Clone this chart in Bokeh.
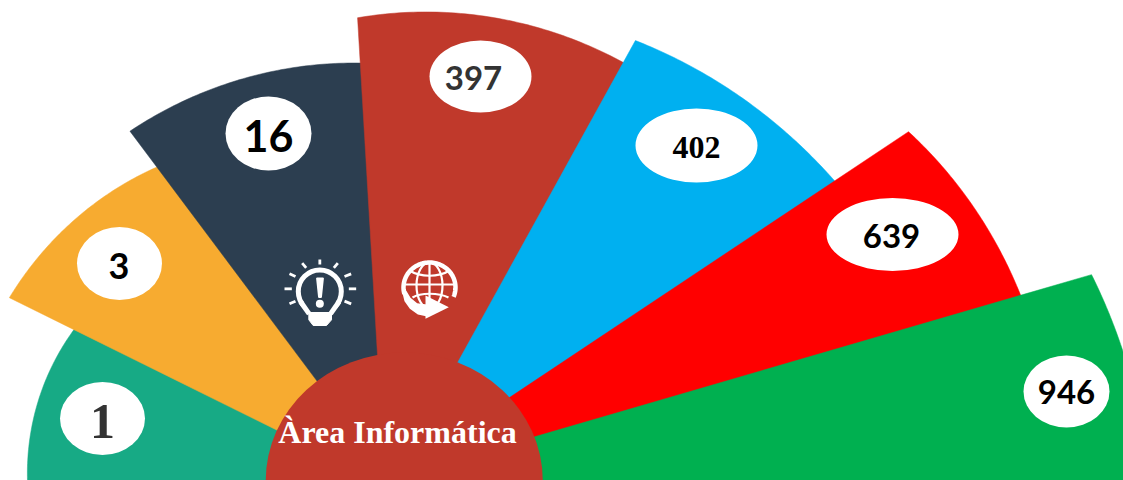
import numpy as np
from bokeh.plotting import figure
from bokeh.embed import file_html
from bokeh.resources import INLINE
from bokeh.core.properties import value

# --- data -----------------------------------------------------------------
categories = ["A", "B", "C", "D", "E", "F", "G"]
values = [1, 3, 16, 397, 402, 639, 946]
title = "Àrea Informática"

# --- geometry / style -----------------------------------------------------
APEX = (387.0, 480.0)
colors = ["#17AA85", "#F7AB30", "#2C3E50", "#C0392B", "#00B0F0", "#FF0000", "#00B050"]
# start angle, end angle (deg, ccw from +x), outer radius at start / middle / end,
# and the x where each straight edge meets the bottom of the page.
# Each slice runs a little under the next one, so that no seam shows.
shape = [
    (180.0, 153.5, 360, 358, 347, 378, 400),
    (154.2, 125.6, 420, 407, 388, 378, 400),
    (126.4, 93.2, 434, 427, 418, 391, 400),
    (93.7, 60.0, 463.7, 475, 480, 384.4, 400),
    (60.6, 33.2, 505, 522, 539, 392, 400),
    (33.8, 16.0, 627, 647, 660, 384.5, 400),
    (16.3, 0.0, 733.5, 750, 762, 384, 384),
]
bubble = [
    (102, 418, 85, 73), (119, 263, 85, 73), (268, 133, 86, 74), (480, 76, 102, 72),
    (696, 145, 122, 74), (892, 234, 132, 73), (1066, 391, 86, 72),
]
label_pos = [(102, 420.5), (118.5, 265), (268, 135), (473, 77), (696, 146.5), (891, 235), (1066, 391)]
fonts = ["Liberation Serif", "Lato", "Lato", "Lato", "Liberation Serif", "Lato", "Lato"]
sizes = [50, 36, 43, 33, 32, 33, 33]
tcols = ["#333333", "#000000", "#000000", "#333333", "#000000", "#000000", "#000000"]

p = figure(width=1123, height=480, x_range=(0, 1123), y_range=(480, 0),
           output_backend="svg", toolbar_location=None, min_border=0)
p.axis.visible = False
p.grid.visible = False
p.outline_line_color = None

def outer_edge(a0, a1, r0, rm, r1, n=60):
    t = np.linspace(0, 1, n)
    r = r0 * (1 - t) * (1 - 2 * t) + rm * 4 * t * (1 - t) + r1 * t * (2 * t - 1)
    a = np.radians(a0 + (a1 - a0) * t)
    return APEX[0] + r * np.cos(a), APEX[1] - r * np.sin(a)

for (a0, a1, r0, rm, r1, f0, f1), c in zip(shape, colors):
    xs, ys = outer_edge(a0, a1, r0, rm, r1)
    p.patch(np.r_[f0, xs, f1], np.r_[APEX[1], ys, APEX[1]], fill_color=c, line_color=c, line_width=0.5)

# hub
p.ellipse(x=[403.75], y=[480], width=[277], height=[256], fill_color="#C0392B", line_color=None)

# bubbles and value labels
for (x, y, w, h), (lx, ly), v, f, s, tc in zip(bubble, label_pos, values, fonts, sizes, tcols):
    p.ellipse(x=[x], y=[y], width=[w], height=[h], fill_color="#FFFFFF", line_color=None)
    p.text(x=[lx], y=[ly], text=[str(v)], text_font=value(f), text_font_size=f"{s}px",
           text_font_style="bold", text_color=tc, text_align="center", text_baseline="middle")

p.text(x=[397], y=[431], text=[title], text_font=value("Liberation Serif"), text_font_size="32px",
       text_font_style="bold", text_color="#FFFFFF", text_align="center", text_baseline="middle")

# light-bulb icon
W = "#FFFFFF"
NAVY = colors[2]
rays = [(148, 57, 148, 72), (95, 68, 107, 82), (202, 68, 190, 82), (57, 100, 75, 108), (242, 100, 222, 108),
        (42, 145, 64, 145), (257, 145, 235, 145), (57, 190, 75, 182), (242, 190, 222, 182)]
zx = lambda v: 270 + v / 3
zy = lambda v: 240 + v / 3
p.segment([zx(r[0]) for r in rays], [zy(r[1]) for r in rays], [zx(r[2]) for r in rays], [zy(r[3]) for r in rays],
          line_color=W, line_width=2.8)
p.ellipse(x=[319.3], y=[291], width=[43], height=[43], fill_color=None, line_color=W, line_width=5)
p.patch([zx(v) for v in (92, 204, 182, 114)], [zy(v) for v in (185, 185, 222, 222)], fill_color=NAVY, line_color=None)
p.segment([zx(90), zx(206)], [zy(183), zy(183)], [zx(116), zx(180)], [zy(220), zy(220)], line_color=W, line_width=5)
p.patch([zx(v) for v in (115, 183, 183, 168, 128, 115)], [zy(v) for v in (216, 216, 238, 255, 255, 238)],
        fill_color=W, line_color=W, line_width=1)
p.patch([zx(v) for v in (139, 158, 152, 145)], [zy(v) for v in (113, 113, 170, 170)], fill_color=W, line_color=W, line_width=1.5)
p.ellipse(x=[zx(148)], y=[zy(190)], width=[8], height=[8], fill_color=W, line_color=None)

# globe icon: the ring stops at the arrow, the swoosh closes it on the left
ring_a = np.radians(np.linspace(195, -22, 80))
p.line(429 + 26 * np.cos(ring_a), 287 - 25 * np.sin(ring_a), line_color=W, line_width=4.5)
p.ellipse(x=[429], y=[285], width=[26], height=[46], fill_color=None, line_color=W, line_width=2.2)
p.segment([429], [262], [429], [304], line_color=W, line_width=2.2)
p.bezier(x0=[409], y0=[270], x1=[449], y1=[270], cx0=[420], cy0=[277], cx1=[438], cy1=[277], line_color=W, line_width=2.2)
p.segment([404], [284], [454], [284], line_color=W, line_width=2.2)
p.bezier(x0=[412], y0=[297], x1=[448], y1=[297], cx0=[420], cy0=[292], cx1=[438], cy1=[292], line_color=W, line_width=2.2)
# swoosh + arrow head
swoosh_x = (394, 407, 420, 440, 470, 470, 442, 418, 402)
swoosh_y = (150, 150, 172, 188, 192, 228, 222, 205, 182)
p.patch([zx(v) for v in swoosh_x], [zy(v) for v in swoosh_y], fill_color=W, line_color=None)
p.patch([zx(v) for v in (465, 535, 465)], [zy(v) for v in (165, 200, 235)], fill_color=W, line_color=None)

open("out.html", "w").write(file_html(p, INLINE))
